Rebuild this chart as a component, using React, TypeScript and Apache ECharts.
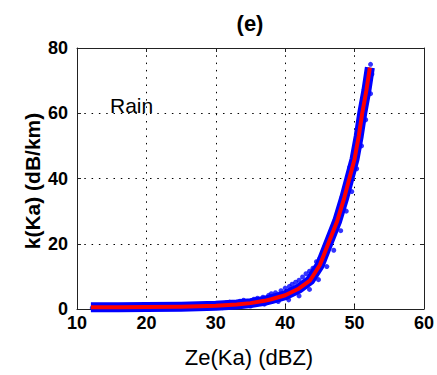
import React, { useEffect, useRef } from "react";
import * as echarts from "echarts";

// Fitted relation (red): [Ze(Ka) dBZ, k(Ka) dB/km]
const fitCurve: [number, number][] = [
  [12, 0.5], [16, 0.5], [20, 0.6], [25, 0.7], [30, 1.0], [33, 1.4], [35, 1.8],
  [37, 2.5], [38, 3.0], [40, 4.2], [42, 6.3], [43.6, 8.8], [45, 13.5],
  [46.2, 20], [47.5, 27], [48.5, 34], [49.25, 40], [50, 46], [50.6, 53],
  [51.1, 60], [51.7, 67], [52.2, 74],
];

// Scattered samples (blue)
const samples: [number, number][] = [
  [12.2, 0.3], [12.8, 1.0], [13.5, 0.2], [14.3, 1.0], [15.0, 0.3], [16.2, 1.0],
  [17.5, 0.2], [19.0, 1.0], [21.0, 0.2], [23.0, 1.0], [25.0, 1.1], [27.0, 0.2],
  [28.5, 1.3], [29.5, 1.5], [30.0, 1.7], [31.0, 0.4], [31.5, 1.9], [32.0, 2.1],
  [33.0, 0.8], [33.5, 2.4], [34.0, 2.7], [35.0, 0.9], [35.5, 3.0], [36.0, 3.3],
  [36.8, 3.6], [37.0, 1.5], [37.6, 4.2], [38.0, 4.7], [38.6, 5.0], [39.0, 2.3],
  [39.4, 5.6], [40.0, 6.4], [40.5, 2.8], [40.6, 6.9], [41.0, 7.6], [41.5, 8.2],
  [42.0, 4.0], [42.0, 8.8], [42.5, 9.8], [43.0, 10.8], [43.5, 6.0], [43.5, 11.6],
  [44.0, 12.5], [44.5, 14.5], [44.8, 9.0], [45.0, 15.5], [45.3, 16.5],
  [45.7, 19.0], [46.0, 13.0], [46.1, 21.0], [46.5, 22.5], [47.0, 18.0],
  [47.0, 26.0], [47.5, 29.0], [48.0, 24.0], [48.0, 31.5], [48.3, 33.5],
  [48.8, 30.0], [48.7, 37.0], [49.0, 40.0], [49.3, 43.5], [49.6, 36.0],
  [49.8, 47.0], [50.3, 43.0], [50.2, 51.0], [50.5, 54.0], [50.8, 57.5],
  [51.0, 50.0], [51.2, 62.0], [51.6, 58.0], [51.5, 65.0], [51.8, 68.0],
  [52.0, 71.0], [52.3, 66.0], [52.3, 75.0], [52.5, 72.0],
];

const xTicks = [10, 20, 30, 40, 50, 60];
const yTicks = [0, 20, 40, 60, 80];

const titleText = "(e)";
const xName = "Ze(Ka) (dBZ)";
const yName = "k(Ka) (dB/km)";
const noteText = "Rain";

const FONT = "'Liberation Sans', Arial, sans-serif";

export default function App() {
  const ref = useRef<HTMLDivElement>(null);
  useEffect(() => {
    if (!ref.current) return;
    const chart = echarts.init(ref.current, undefined, { renderer: "svg" });
    const gridLine = { show: true, lineStyle: { color: "#000", width: 1, type: [1.5, 5.8] as any } };
    const axisBase = {
      type: "value" as const,
      axisLine: { show: true, onZero: false, lineStyle: { color: "#222", width: 1 } },
      axisTick: { show: true, inside: true, length: 4, lineStyle: { color: "#222" } },
    };
    chart.setOption({
      animation: false,
      backgroundColor: "#fff",
      grid: { left: 77, right: 7, top: 48, bottom: 66, containLabel: false },
      xAxis: [
        {
          ...axisBase,
          min: xTicks[0],
          max: xTicks[xTicks.length - 1],
          interval: 10,
          position: "bottom",
          splitLine: gridLine,
          axisLabel: { color: "#000", fontSize: 18, fontWeight: "bold", fontFamily: FONT, margin: 5 },
        },
        {
          ...axisBase,
          min: xTicks[0],
          max: xTicks[xTicks.length - 1],
          interval: 10,
          position: "top",
          splitLine: { show: false },
          axisLabel: { show: false },
        },
      ],
      yAxis: [
        {
          ...axisBase,
          min: yTicks[0],
          max: yTicks[yTicks.length - 1],
          interval: 20,
          position: "left",
          splitLine: gridLine,
          axisLabel: { color: "#000", fontSize: 18, fontWeight: "bold", fontFamily: FONT, margin: 9 },
        },
        {
          ...axisBase,
          min: yTicks[0],
          max: yTicks[yTicks.length - 1],
          interval: 20,
          position: "right",
          splitLine: { show: false },
          axisLabel: { show: false },
        },
      ],
      series: [
        {
          type: "line",
          data: fitCurve,
          showSymbol: false,
          smooth: false,
          lineStyle: { color: "#0000ff", width: 10, cap: "butt", join: "round" },
          z: 2,
        },
        {
          type: "scatter",
          data: samples,
          symbol: "circle",
          symbolSize: 5,
          itemStyle: { color: "#0000ff" },
          z: 3,
        },
        {
          type: "line",
          data: fitCurve,
          showSymbol: false,
          lineStyle: { color: "#ff0000", width: 4, join: "round" },
          z: 4,
        },
      ],
      graphic: [
        {
          type: "text",
          x: 250,
          y: 23,
          style: { text: titleText, font: `bold 22px ${FONT}`, fill: "#000", textAlign: "center", textVerticalAlign: "middle" },
        },
        {
          type: "text",
          x: 249,
          y: 357,
          style: { text: xName, font: `22px ${FONT}`, fill: "#000", textAlign: "center", textVerticalAlign: "middle" },
        },
        {
          type: "text",
          x: 32,
          y: 181,
          rotation: Math.PI / 2,
          style: { text: yName, font: `bold 21px ${FONT}`, fill: "#000", textAlign: "center", textVerticalAlign: "middle" },
        },
        {
          type: "text",
          x: 110,
          y: 105,
          style: { text: noteText, font: `21px ${FONT}`, fill: "#000", textAlign: "left", textVerticalAlign: "middle" },
        },
      ],
    });
    return () => chart.dispose();
  }, []);
  return <div ref={ref} style={{ width: 437, height: 375, position: "absolute", left: 0, top: 0 }} />;
}
